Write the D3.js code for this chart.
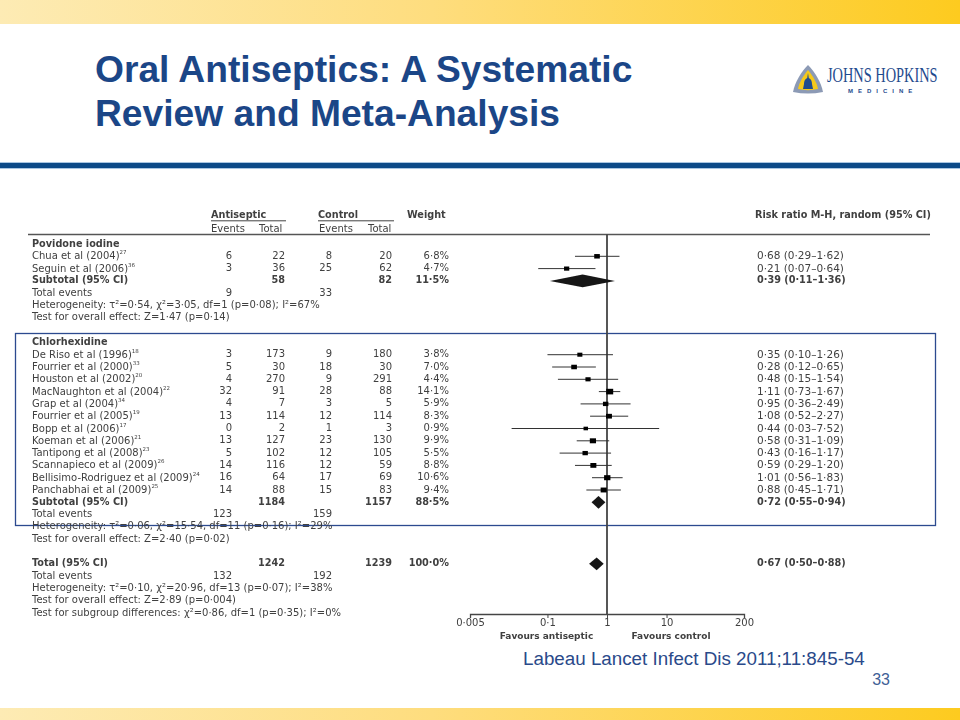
<!DOCTYPE html>
<html>
<head>
<meta charset="utf-8">
<script src="https://cdn.jsdelivr.net/npm/d3@7"></script>
<style>
html,body{margin:0;padding:0;background:#fff;}
svg{display:block;}
</style>
</head>
<body>
<svg id="chart" width="960" height="720"></svg>
<script>
const slideTitle = ["Oral Antiseptics: A Systematic", "Review and Meta-Analysis"];
const citation = "Labeau Lancet Infect Dis 2011;11:845-54";
const pageNumber = "33";

const studies = ["Chua et al (2004)","Seguin et al (2006)","De Riso et al (1996)","Fourrier et al (2000)","Houston et al (2002)","MacNaughton et al (2004)","Grap et al (2004)","Fourrier et al (2005)","Bopp et al (2006)","Koeman et al (2006)","Tantipong et al (2008)","Scannapieco et al (2009)","Bellisimo-Rodriguez et al (2009)","Panchabhai et al (2009)"];
const studyRefs = ["27","36","18","33","20","22","34","19","17","21","23","26","24","25"];
const studyRows = [1,2,9,10,11,12,13,14,15,16,17,18,19,20];
const eventsA = [6,3,3,5,4,32,4,13,0,13,5,14,16,14];
const totalA = [22,36,173,30,270,91,7,114,2,127,102,116,64,88];
const eventsC = [8,25,9,18,9,28,3,12,1,23,12,12,17,15];
const totalC = [20,62,180,30,291,88,5,114,3,130,105,59,69,83];
const weights = [6.8,4.7,3.8,7.0,4.4,14.1,5.9,8.3,0.9,9.9,5.5,8.8,10.6,9.4];
const rr = [0.68,0.21,0.35,0.28,0.48,1.11,0.95,1.08,0.44,0.58,0.43,0.59,1.01,0.88];
const lo = [0.29,0.07,0.10,0.12,0.15,0.73,0.36,0.52,0.025,0.31,0.16,0.29,0.56,0.45];
const hi = [1.62,0.64,1.26,0.65,1.54,1.67,2.49,2.27,7.52,1.09,1.17,1.20,1.83,1.71];
const rrLabels = ["0·68 (0·29–1·62)","0·21 (0·07–0·64)","0·35 (0·10–1·26)","0·28 (0·12–0·65)","0·48 (0·15–1·54)","1·11 (0·73–1·67)","0·95 (0·36–2·49)","1·08 (0·52–2·27)","0·44 (0·03–7·52)","0·58 (0·31–1·09)","0·43 (0·16–1·17)","0·59 (0·29–1·20)","1·01 (0·56–1·83)","0·88 (0·45–1·71)"];

const summaryNames = ["Subtotal (95% CI)","Subtotal (95% CI)","Total (95% CI)"];
const summaryRows = [3,21,26];
const summaryTotalA = [58,1184,1242];
const summaryTotalC = [82,1157,1239];
const summaryWeights = [11.5,88.5,100.0];
const summaryRR = [0.39,0.72,0.67];
const summaryLo = [0.11,0.55,0.50];
const summaryHi = [1.36,0.94,0.88];
const summaryLabels = ["0·39 (0·11–1·36)","0·72 (0·55–0·94)","0·67 (0·50–0·88)"];

const eventRows = [4,22,27];
const eventSumA = [9,123,132];
const eventSumC = [33,159,192];

const groupNames = ["Povidone iodine","Chlorhexidine"];
const groupRows = [0,8];
const noteRows = [5,6,23,24,28,29,30];
const notes = [
 "Heterogeneity: τ²=0·54, χ²=3·05, df=1 (p=0·08); I²=67%",
 "Test for overall effect: Z=1·47 (p=0·14)",
 "Heterogeneity: τ²=0·06, χ²=15·54, df=11 (p=0·16); I²=29%",
 "Test for overall effect: Z=2·40 (p=0·02)",
 "Heterogeneity: τ²=0·10, χ²=20·96, df=13 (p=0·07); I²=38%",
 "Test for overall effect: Z=2·89 (p=0·004)",
 "Test for subgroup differences: χ²=0·86, df=1 (p=0·35); I²=0%"
];
const axisTicks = [0.005,0.1,1,10,200];
const axisLabels = ["0·005","0·1","1","10","200"];

const dot = (v,d=2)=>v.toFixed(d).replace(".","·");

const NAVY="#1b4687", TXT="#3f3f3f", FONT="'DejaVu Sans',sans-serif";
const svg=d3.select("#chart");
const defs=svg.append("defs");
const g1=defs.append("linearGradient").attr("id","band");
g1.append("stop").attr("offset","0").attr("stop-color","#fdebb4");
g1.append("stop").attr("offset","0.45").attr("stop-color","#fedd7e");
g1.append("stop").attr("offset","1").attr("stop-color","#fdcb1f");
defs.append("filter").attr("id","soft").attr("x","-2%").attr("y","-2%").attr("width","104%").attr("height","104%").append("feGaussianBlur").attr("stdDeviation",0.4);

svg.append("rect").attr("x",0).attr("y",0).attr("width",960).attr("height",24).attr("fill","url(#band)");
svg.append("rect").attr("x",0).attr("y",708).attr("width",960).attr("height",12).attr("fill","url(#band)");
svg.append("rect").attr("x",0).attr("y",162).attr("width",960).attr("height",7).attr("fill","#a9c6e2");
svg.append("rect").attr("x",0).attr("y",163).attr("width",960).attr("height",5).attr("fill","#0c4a88");

svg.selectAll("text.title").data(slideTitle).join("text").attr("class","title")
  .attr("x",95).attr("y",(d,i)=>82+i*44)
  .attr("font-family","'Liberation Sans',sans-serif").attr("font-weight","bold").attr("font-size",37.2)
  .attr("fill",NAVY).text(d=>d);

// logo
const logo=svg.append("g");
logo.append("path").attr("d","M808 65 C815 72 821 82 823 92 C813 94 803 94 793 92 C795 82 801 72 808 65Z").attr("fill","#8c9ab5");
logo.append("path").attr("d","M808 70 C813 76 817 83 818 89 C811 90.5 805 90.5 798 89 C799 83 803 76 808 70Z").attr("fill","#f5c91a");
logo.append("path").attr("d","M808 73 L808.8 78 C811 79 812 81 812 84 L813 89 L803 89 L804 84 C804 81 805 79 807.2 78Z").attr("fill","#1f4b8e");
logo.append("text").attr("transform","translate(827,82) scale(0.685,1)").attr("font-family","'Liberation Serif',serif").attr("font-size",21)
  .attr("fill","#1f4b8e").text("JOHNS HOPKINS");
logo.append("text").attr("x",848).attr("y",92.5).attr("font-family","'Liberation Sans',sans-serif").attr("font-weight","bold").attr("font-size",6)
  .attr("letter-spacing",5).attr("fill","#1f4b8e").text("MEDICINE");

// scales
const x=d3.scaleLog().domain([0.005,200]).range([470,744]);
const rowIdx=d3.range(0,31);
const y=d3.scalePoint().domain(rowIdx).range([243,612]);
const wScale=d3.scaleLinear().domain([0.9,14.1]).range([4.5,7]);

// panel box
svg.append("rect").attr("x",15.5).attr("y",333.5).attr("width",920).attr("height",192).attr("fill","none").attr("stroke","#2c4a8f").attr("stroke-width",1.3);

const chart=svg.append("g").attr("filter","url(#soft)");
const FS=10, FSB=9.7;
const baseText=(sel)=>sel.attr("font-family",FONT).attr("font-size",FS).attr("fill",TXT).attr("dominant-baseline","central");

// header rule
chart.append("line").attr("x1",28).attr("x2",930).attr("y1",234.5).attr("y2",234.5).attr("stroke","#555").attr("stroke-width",1.4);
[[211,286],[318,394]].forEach(p=>chart.append("line").attr("x1",p[0]).attr("x2",p[1]).attr("y1",220.8).attr("y2",220.8).attr("stroke","#444").attr("stroke-width",1));
const headers=[["Antiseptic",211,214.5,true],["Control",318,214.5,true],["Weight",407,214.5,true],["Events",211,228,false],["Total",259,228,false],["Events",319,228,false],["Total",368,228,false],["Risk ratio M-H, random (95% CI)",755,214.5,true]];
chart.selectAll("text.h").data(headers).join("text").attr("class","h").call(baseText)
  .attr("x",d=>d[1]).attr("y",d=>d[2]).attr("font-weight",d=>d[3]?"bold":"normal").attr("font-size",d=>d[3]?FSB:FS).text(d=>d[0]);

// group names
chart.selectAll("text.g").data(groupNames).join("text").attr("class","g").call(baseText)
  .attr("x",32).attr("y",(d,i)=>y(groupRows[i])).attr("font-weight","bold").attr("font-size",FSB).text(d=>d);

// study names
const names=chart.selectAll("text.s").data(studies).join("text").attr("class","s").call(baseText)
  .attr("x",32).attr("y",(d,i)=>y(studyRows[i]));
names.append("tspan").text(d=>d);
names.append("tspan").attr("font-size",5.5).attr("dy",-3).text((d,i)=>studyRefs[i]);

const col=(cls,vals,rows,xp,bold,fmt)=>chart.selectAll("text."+cls).data(vals).join("text").attr("class",cls).call(baseText)
  .attr("x",xp).attr("y",(d,i)=>y(rows[i])).attr("text-anchor","end").attr("font-weight",bold?"bold":"normal").attr("font-size",bold?FSB:FS).text(fmt||(d=>d));
const pct=d=>dot(d,1)+"%";
col("ea",eventsA,studyRows,232);
col("ta",totalA,studyRows,285);
col("ec",eventsC,studyRows,332);
col("tc",totalC,studyRows,392);
col("w",weights,studyRows,449,false,pct);
col("sta",summaryTotalA,summaryRows,285,true);
col("stc",summaryTotalC,summaryRows,392,true);
col("sw",summaryWeights,summaryRows,449,true,pct);
col("esa",eventSumA,eventRows,232);
col("esc",eventSumC,eventRows,332);

chart.selectAll("text.sn").data(summaryNames).join("text").attr("class","sn").call(baseText)
  .attr("x",32).attr("y",(d,i)=>y(summaryRows[i])).attr("font-weight","bold").attr("font-size",FSB).text(d=>d);
chart.selectAll("text.te").data(eventRows).join("text").attr("class","te").call(baseText)
  .attr("x",32).attr("y",d=>y(d)).text("Total events");
chart.selectAll("text.n").data(notes).join("text").attr("class","n").call(baseText)
  .attr("x",32).attr("y",(d,i)=>y(noteRows[i])).text(d=>d);

// risk ratio text
chart.selectAll("text.rr").data(rrLabels).join("text").attr("class","rr").call(baseText)
  .attr("x",757).attr("y",(d,i)=>y(studyRows[i])).attr("font-size",10.5).text(d=>d);
chart.selectAll("text.srr").data(summaryLabels).join("text").attr("class","srr").call(baseText)
  .attr("x",757).attr("y",(d,i)=>y(summaryRows[i])).attr("font-weight","bold").attr("font-size",FSB).text(d=>d);

// null line
chart.append("line").attr("x1",x(1)).attr("x2",x(1)).attr("y1",234.5).attr("y2",614).attr("stroke","#444").attr("stroke-width",1.8);

// CI lines + squares
chart.selectAll("line.ci").data(rr).join("line").attr("class","ci")
  .attr("x1",(d,i)=>x(lo[i])).attr("x2",(d,i)=>x(hi[i]))
  .attr("y1",(d,i)=>y(studyRows[i])+1).attr("y2",(d,i)=>y(studyRows[i])+1)
  .attr("stroke","#333").attr("stroke-width",1);
chart.selectAll("rect.m").data(rr).join("rect").attr("class","m")
  .attr("x",(d,i)=>x(d)-wScale(weights[i])/2).attr("width",(d,i)=>wScale(weights[i]))
  .attr("y",(d,i)=>y(studyRows[i])+1-wScale(weights[i])*0.4).attr("height",(d,i)=>wScale(weights[i])*0.8)
  .attr("fill","#000");
// diamonds
chart.selectAll("path.d").data(summaryRR).join("path").attr("class","d")
  .attr("d",(d,i)=>{const c=y(summaryRows[i])+1,h=6.4;return `M${x(summaryLo[i])},${c}L${x(d)},${c-h}L${x(summaryHi[i])},${c}L${x(d)},${c+h}Z`;})
  .attr("fill","#151515");

// axis
const axis=d3.axisBottom(x).tickValues(axisTicks).tickFormat((d,i)=>axisLabels[i]).tickSize(4).tickPadding(1);
const ax=chart.append("g").attr("transform","translate(0,614)").call(axis);
ax.select(".domain").attr("stroke","#444").attr("stroke-width",1.3);
ax.selectAll(".tick line").attr("stroke","#444").attr("stroke-width",1);
ax.selectAll(".tick text").attr("font-family",FONT).attr("font-size",FS).attr("fill",TXT);
chart.selectAll("text.fav").data([["Favours antiseptic",546.5],["Favours control",671]]).join("text").attr("class","fav").call(baseText)
  .attr("x",d=>d[1]).attr("y",636).attr("text-anchor","middle").attr("font-weight","bold").attr("font-size",9).text(d=>d[0]);

svg.append("text").attr("x",523).attr("y",665).attr("font-family","'Liberation Sans',sans-serif").attr("font-size",18.8).attr("fill","#2a4a8a").text(citation);
svg.append("text").attr("x",890).attr("y",685).attr("text-anchor","end").attr("font-family","'Liberation Sans',sans-serif").attr("font-size",16).attr("fill","#3f5f96").text(pageNumber);
</script>
</body>
</html>
